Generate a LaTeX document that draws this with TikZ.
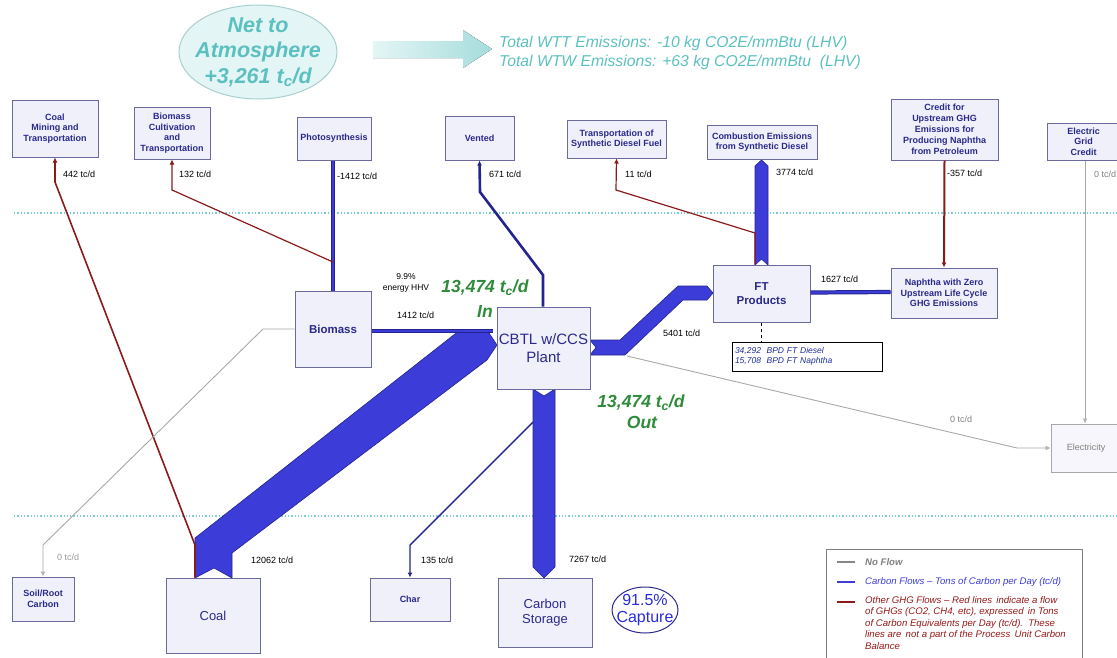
\documentclass[tikz,border=0pt]{standalone}
\usepackage{fontspec}
\setmainfont{Liberation Sans}
\usetikzlibrary{arrows.meta,shapes.geometric,calc}
\definecolor{boxfill}{HTML}{F0F0FA}
\definecolor{boxline}{HTML}{6A6A9C}
\definecolor{navy}{HTML}{2A2A8C}
\definecolor{flow}{HTML}{3C3CD8}
\definecolor{flowedge}{HTML}{24248E}
\definecolor{ghg}{HTML}{8B1A1A}
\definecolor{noflow}{HTML}{A8A8A8}
\definecolor{teal}{HTML}{5CC0C0}
\definecolor{tealfill}{HTML}{E4F5F5}
\definecolor{tealedge}{HTML}{A8CFCF}
\definecolor{ingreen}{HTML}{2E8B3A}
\definecolor{infoblue}{HTML}{1E2E9E}
\definecolor{capblue}{HTML}{2A2AE0}
\begin{document}
\begin{tikzpicture}[x=1pt,y=-1pt,
  box/.style={draw=boxline, fill=boxfill, line width=1pt, inner sep=1pt, align=center,
    font=\fontsize{9}{10.5}\selectfont\bfseries, text=navy},
  lbl/.style={anchor=west, inner sep=0pt, font=\fontsize{9}{10}\selectfont, text=black},
  ghgline/.style={draw=ghg, line width=1.6pt, -{Latex[length=5pt,width=5pt]}},
  grayline/.style={draw=noflow, line width=0.9pt, -{Latex[length=5pt,width=5pt,open]}},
  blueline/.style={draw=flowedge, line width=1.4pt, -{Latex[length=5pt,width=5pt]}},
  band/.style={fill=flow, draw=flowedge, line width=0.6pt},
  thinband/.style={draw=flowedge, double=flow, double distance=2.2pt, line width=1pt},
  dotline/.style={draw=teal!80, line width=1.3pt, dotted},
  green/.style={text=ingreen, font=\fontsize{17.5}{20}\selectfont\bfseries\itshape, inner sep=0pt}
]
\useasboundingbox (0,0) rectangle (1117,657);

% dotted separators
\draw[dotline] (14,213) -- (1117,213);
\draw[dotline] (14,516) -- (1117,516);

% header
\node[ellipse, draw=tealedge, fill=tealfill, line width=1pt, minimum width=158pt, minimum height=94pt] (net) at (258,52) {};
\node[align=center, inner sep=0pt, text=teal, font=\fontsize{21.5}{25.5}\selectfont\bfseries\itshape] (nettext) at (net.center)
  {Net to\\Atmosphere\\+3,261 t\textsubscript{c}/d};
\fill[left color=tealfill, right color=teal!55] (373,41) -- (463,41) -- (463,30) -- (492,49) -- (463,68) -- (463,58) -- (373,58) -- cycle;
\node[anchor=west, align=left, text=teal, inner sep=0pt, font=\fontsize{15.7}{19}\selectfont\itshape] (tot) at (499,53)
  {Total WTT Emissions: -10 kg CO2E/mmBtu (LHV)\\Total WTW Emissions: +63 kg CO2E/mmBtu~ (LHV)};

% thick bands
\draw[band] (195,578) -- (214,568) -- (232,578) -- (232,553) -- (487,360) -- (497,345) -- (487,330) -- (460,330) -- (195,538) -- cycle;
\draw[band] (590,340) -- (620,340) -- (678,286) -- (707,286) -- (713,293) -- (707,300) -- (683,300) -- (625,355) -- (590,355) -- (596,347.5) -- cycle;
\draw[band] (755,265) -- (761.5,259) -- (768,265) -- (768,166) -- (761.5,160) -- (755,166) -- cycle;
\draw[band] (533,389) -- (544,396) -- (555,389) -- (555,567) -- (544,578) -- (533,567) -- cycle;

% boxes
\node[box, minimum width=86pt, minimum height=57pt] (cmt) at (55,128.5) {Coal\\Mining and\\Transportation};
\node[box, minimum width=76pt, minimum height=52pt] (bct) at (172,133) {Biomass\\Cultivation\\and\\Transportation};
\node[box, minimum width=74pt, minimum height=43pt] (photo) at (334,138.5) {Photosynthesis};
\node[box, minimum width=69pt, minimum height=44pt] (vent) at (479.5,138) {Vented};
\node[box, minimum width=99pt, minimum height=38pt] (tsd) at (616.5,139) {Transportation of\\Synthetic Diesel Fuel};
\node[box, minimum width=110pt, minimum height=34pt] (comb) at (762,142) {};
\node[align=center, inner sep=0pt, text=navy, font=\fontsize{9}{10.5}\selectfont\bfseries] (combtext) at (comb.center) {Combustion Emissions\\from Synthetic Diesel};
\node[box, minimum width=107pt, minimum height=61pt, font=\fontsize{9}{11}\selectfont\bfseries] (credit) at (944.5,129.5) {Credit for\\Upstream GHG\\Emissions for\\Producing Naphtha\\from Petroleum};
\node[box, minimum width=73pt, minimum height=37pt] (grid) at (1083.5,141.5) {Electric\\Grid\\Credit};
\node[box, minimum width=76pt, minimum height=76pt, font=\fontsize{11.5}{13}\selectfont\bfseries] (biomass) at (333,329) {Biomass};
\node[box, minimum width=93pt, minimum height=82pt, font=\fontsize{15}{17.5}\selectfont] (plant) at (543.5,348) {CBTL w/CCS\\Plant};
\node[box, minimum width=97pt, minimum height=57pt, font=\fontsize{11.5}{14}\selectfont\bfseries] (ft) at (761.5,293.5) {FT\\Products};
\node[box, minimum width=106pt, minimum height=50pt] (naph) at (944,293) {Naphtha with Zero\\Upstream Life Cycle\\GHG Emissions};
\node[draw=black, fill=white, line width=0.8pt, minimum width=150pt, minimum height=29pt, text width=144pt,
  align=left, inner sep=2pt, text=infoblue, font=\fontsize{8.5}{10.5}\selectfont\itshape] (info) at (807,356.5)
  {34,292~~BPD FT Diesel\\15,708~~BPD FT Naphtha};
\node[box, draw=noflow, fill=boxfill!60, minimum width=70pt, minimum height=48pt, text=gray, font=\fontsize{9}{10}\selectfont] (elec) at (1086,448) {Electricity};
\node[box, minimum width=62pt, minimum height=44pt] (soil) at (43,599) {Soil/Root\\Carbon};
\node[box, minimum width=94pt, minimum height=75pt, font=\fontsize{13}{15}\selectfont] (coal) at (213,615.5) {Coal};
\node[box, minimum width=80pt, minimum height=43pt] (char) at (410,599.5) {Char};
\node[box, minimum width=94pt, minimum height=69pt, font=\fontsize{13}{15.5}\selectfont] (storage) at (545,612.5) {Carbon\\Storage};
\node[ellipse, draw=navy, line width=1pt, minimum width=66pt, minimum height=46pt, inner sep=0pt] (capture) at (645,610) {};
\node[align=center, inner sep=0pt, text=capblue, font=\fontsize{16}{17}\selectfont] (capttext) at (capture.center) {91.5\%\\Capture};

% thin carbon flows
\draw[thinband] (photo.south -| biomass.north) -- (biomass.north);
\draw[thinband] ($(biomass.east)+(0,2)$) -- ++(121,0);
\draw[thinband] ($(ft.east)+(0,-1)$) -- ($(naph.west)+(0,-1)$);
\draw[blueline, line width=2.6pt] ($(plant.north)+(-0.5,0)$) -- (543,275) -- (480,192) -- (vent.south);
\draw[blueline] (533,422) -- (410,545) -- (char.north);

% GHG flows
\draw[ghgline] ($(coal.north)+(-18,0)$) -- (195,545) -- (55,182) -- (cmt.south);
\draw[ghgline, line width=1.2pt] (333,262) -- (172,190) -- (bct.south);
\draw[ghgline, line width=1.2pt] ($(ft.north)+(-6.5,0)$) -- (755,233) -- (616,190) -- (tsd.south);
\draw[ghgline, line width=2pt] (credit.south) -- (naph.north);

% no flows
\draw[grayline] (grid.south -| 1085,0) -- (elec.north -| 1085,0);
\draw[grayline] (627,356) -- (1017,448) -- (elec.west);
\draw[grayline] (biomass.west) -- (263,329) -- (43,545) -- (soil.north);
\draw[dashed, line width=0.8pt] (ft.south) -- (ft.south |- info.north);

% labels
\node[lbl] (l1) at (63,174) {442 tc/d};
\node[lbl] (l2) at (179,174) {132 tc/d};
\node[lbl] (l3) at (337,176) {-1412 tc/d};
\node[lbl] (l4) at (489,174) {671 tc/d};
\node[lbl] (l5) at (625,174) {11 tc/d};
\node[lbl] (l6) at (776,172) {3774 tc/d};
\node[lbl] (l7) at (947,173) {-357 tc/d};
\node[lbl, text=gray] (l8) at (1094,174) {0 tc/d};
\node[lbl] (l9) at (821,279) {1627 tc/d};
\node[lbl] (l10) at (663,333) {5401 tc/d};
\node[lbl, text=gray] (l11) at (950,419) {0 tc/d};
\node[lbl] (l12) at (397,315) {1412 tc/d};
\node[align=center, inner sep=0pt, font=\fontsize{8.5}{11.5}\selectfont] (hhv) at (406,283) {9.9\%\\energy HHV};
\node[lbl, text=gray!80] (l13) at (57,557) {0 tc/d};
\node[lbl] (l14) at (251,560) {12062 tc/d};
\node[lbl] (l15) at (421,560) {135 tc/d};
\node[lbl] (l16) at (569,559) {7267 tc/d};

% green totals
\node[green] (in1) at (485,288) {13,474 t\textsubscript{c}/d};
\node[green] (in2) at (485,311) {In};
\node[green] (out1) at (641,403) {13,474 t\textsubscript{c}/d};
\node[green] (out2) at (642,422) {Out};

% legend
\draw[draw=gray, line width=1pt] (826,549) rectangle (1082,662);
\coordinate (lg1) at (837,562); \coordinate (lg1e) at (855,562);
\coordinate (lg2) at (837,582); \coordinate (lg2e) at (855,582);
\coordinate (lg3) at (837,602); \coordinate (lg3e) at (855,602);
\draw[noflow!80!black, line width=1.8pt] (lg1) -- (lg1e);
\draw[flow, line width=1.8pt] (lg2) -- (lg2e);
\draw[ghg, line width=1.8pt] (lg3) -- (lg3e);
\node[anchor=west, inner sep=0pt, text=gray, font=\fontsize{9.6}{11}\selectfont\bfseries\itshape] (t1) at (865,562) {No Flow};
\node[anchor=west, inner sep=0pt, text=flow, font=\fontsize{9.6}{11}\selectfont\itshape] (t2) at (865,582) {Carbon Flows -- Tons of Carbon per Day (tc/d)};
\node[anchor=north west, inner sep=0pt, align=left, text=ghg!90!red, font=\fontsize{9.6}{11.6}\selectfont\itshape] (t3) at (865,596)
  {Other GHG Flows -- Red lines\, indicate a flow\\of GHGs (CO2, CH4, etc), expressed\, in Tons\\of Carbon Equivalents per Day (tc/d).\, These\\lines are\, not a part of the Process\, Unit Carbon\\Balance};
\end{tikzpicture}
\end{document}
